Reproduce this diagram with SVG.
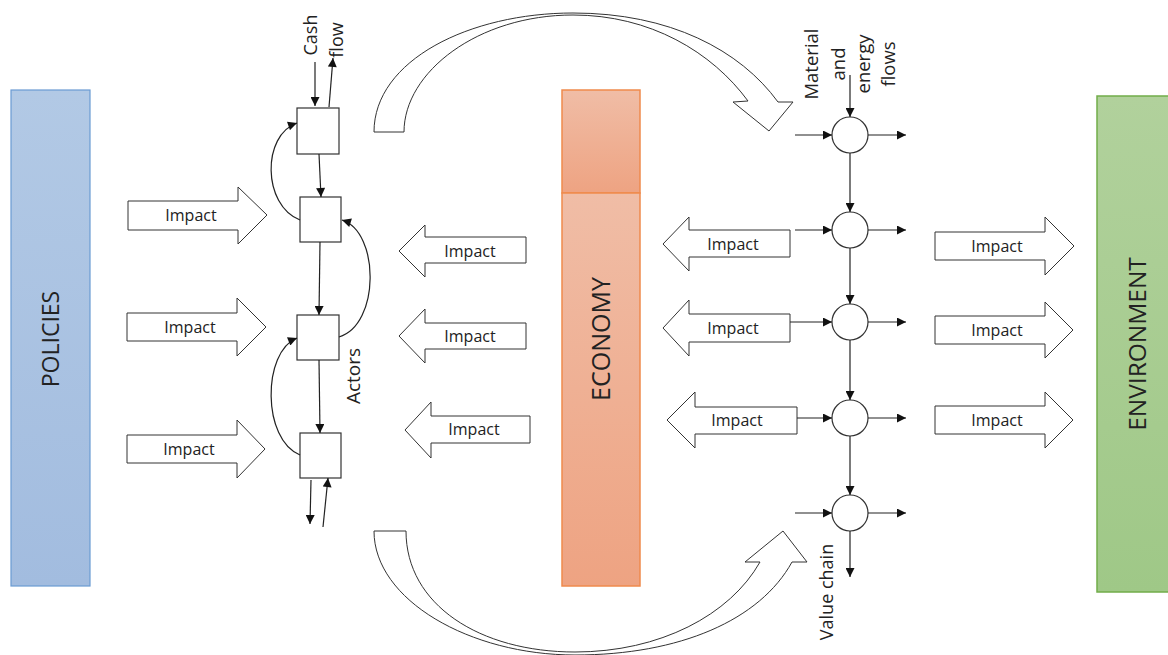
<svg xmlns="http://www.w3.org/2000/svg" width="1168" height="655" viewBox="0 0 1168 655">
<style>
.blk{fill:#fff;stroke:#333;stroke-width:1}
.ln{fill:none;stroke:#222;stroke-width:1.2}
.arr{marker-end:url(#ah)}
.box{fill:#fff;stroke:#333;stroke-width:1.2}
.t{font-family:"Open Sans","Liberation Sans",sans-serif;fill:#222}
.imp{font-size:16px;text-anchor:middle}
.lab{font-size:18px;text-anchor:middle}
.big{font-size:23px;text-anchor:middle;fill:#222}
</style>
<defs>
<marker id="ah" viewBox="0 0 10 10" refX="10" refY="5" markerWidth="10" markerHeight="9" orient="auto" markerUnits="userSpaceOnUse"><path d="M0,0 L10,5 L0,10 z" fill="#111"/></marker>
<linearGradient id="gb" x1="0" y1="0" x2="0" y2="1"><stop offset="0" stop-color="#b2c9e5"/><stop offset="1" stop-color="#a2bcdf"/></linearGradient>
<linearGradient id="go" x1="0" y1="0" x2="0" y2="1"><stop offset="0" stop-color="#f0bda6"/><stop offset="1" stop-color="#eea382"/></linearGradient>
<linearGradient id="gg" x1="0" y1="0" x2="0" y2="1"><stop offset="0" stop-color="#b1d19c"/><stop offset="1" stop-color="#9fc887"/></linearGradient>
</defs>

<g id="policies">
<rect x="11" y="90" width="79" height="496" fill="url(#gb)" stroke="#6a9bd3" stroke-width="1.2"/>
<text class="t big" transform="translate(59,339) rotate(-90)">POLICIES</text>
</g>

<g id="economy">
<rect x="562" y="90" width="78" height="103" fill="url(#go)" stroke="#ef8a4c" stroke-width="1.5"/>
<rect x="562" y="193" width="78" height="393" fill="url(#go)" stroke="#ef8a4c" stroke-width="1.5"/>
<text class="t big" style="font-size:25px" transform="translate(610,339) rotate(-90)">ECONOMY</text>
</g>

<g id="environment">
<rect x="1097" y="96" width="80" height="496" fill="url(#gg)" stroke="#72ad4a" stroke-width="1.5"/>
<text class="t big" style="font-size:24.5px" transform="translate(1146,344) rotate(-90)">ENVIRONMENT</text>
</g>

<g id="policy-impact-1"><path class="blk" d="M128,201 H238 V187 L267,215 L238,244 V230 H128 Z"/><text class="t imp" x="191" y="221">Impact</text></g>
<g id="policy-impact-2"><path class="blk" d="M127,313 H237 V298 L266,327 L237,356 V341 H127 Z"/><text class="t imp" x="190" y="333">Impact</text></g>
<g id="policy-impact-3"><path class="blk" d="M127,435 H237 V420 L265,449 L237,478 V463 H127 Z"/><text class="t imp" x="189" y="455">Impact</text></g>

<g id="economy-impact-1"><path class="blk" d="M526,237 H425 V225 L399,251 L425,277 V263 H526 Z"/><text class="t imp" x="470" y="257">Impact</text></g>
<g id="economy-impact-2"><path class="blk" d="M526,323 H425 V309 L399,336 L425,363 V349 H526 Z"/><text class="t imp" x="470" y="342">Impact</text></g>
<g id="economy-impact-3"><path class="blk" d="M530,416 H431 V402 L405,430 L431,458 V443 H530 Z"/><text class="t imp" x="474" y="435">Impact</text></g>

<g id="chain-impact-1"><path class="blk" d="M790,230 H689 V217 L663,244 L689,271 V257 H790 Z"/><text class="t imp" x="733" y="250">Impact</text></g>
<g id="chain-impact-2"><path class="blk" d="M790,314 H689 V300 L663,328 L689,356 V342 H790 Z"/><text class="t imp" x="733" y="334">Impact</text></g>
<g id="chain-impact-3"><path class="blk" d="M797,407 H695 V392 L667,420 L695,448 V434 H797 Z"/><text class="t imp" x="737" y="426">Impact</text></g>

<g id="env-impact-1"><path class="blk" d="M935,232 H1045 V217 L1074,246 L1045,275 V260 H935 Z"/><text class="t imp" x="997" y="252">Impact</text></g>
<g id="env-impact-2"><path class="blk" d="M935,316 H1045 V302 L1073,330 L1045,358 V344 H935 Z"/><text class="t imp" x="997" y="336">Impact</text></g>
<g id="env-impact-3"><path class="blk" d="M935,406 H1045 V392 L1073,420 L1045,448 V434 H935 Z"/><text class="t imp" x="997" y="426">Impact</text></g>

<g id="actor-1"><rect class="box" x="297" y="108" width="42" height="46"/></g>
<g id="actor-2"><rect class="box" x="300" y="197" width="41" height="45"/></g>
<g id="actor-3"><rect class="box" x="297" y="315" width="42" height="45"/></g>
<g id="actor-4"><rect class="box" x="300" y="433" width="41" height="45"/></g>

<g id="stage-1"><circle class="box" cx="850" cy="135" r="18"/></g>
<g id="stage-2"><circle class="box" cx="850" cy="230" r="18"/></g>
<g id="stage-3"><circle class="box" cx="850" cy="322" r="18"/></g>
<g id="stage-4"><circle class="box" cx="850" cy="418" r="18"/></g>
<g id="stage-5"><circle class="box" cx="850" cy="513" r="18"/></g>

<g id="labels">
<text class="t lab" transform="translate(317,35) rotate(-90)">Cash</text>
<text class="t lab" transform="translate(343,40) rotate(-90)">flow</text>
<text class="t lab" style="font-size:19px" transform="translate(360,376) rotate(-90)">Actors</text>
<text class="t lab" style="font-size:18.5px" transform="translate(818,64) rotate(-90)">Material</text>
<text class="t lab" style="font-size:18.5px" transform="translate(845,64) rotate(-90)">and</text>
<text class="t lab" style="font-size:18.5px" transform="translate(870,64) rotate(-90)">energy</text>
<text class="t lab" style="font-size:18.5px" transform="translate(895,64) rotate(-90)">flows</text>
<text class="t lab" transform="translate(833,592) rotate(-90)">Value chain</text>
</g>

<g id="connectors">
<path class="blk" d="M374,132 C374,60 470,13 573,13 C670,13 740,50 778,102 L793,102 L769,131 L733,102 L748,101 C712,52 650,15 573,15 C478,15 404,72 404,132 Z"/>
<path class="blk" d="M374,531 C374,600 470,655 575,655 C680,655 760,620 792,562 L807,562 L783,531 L745,562 L760,562 C730,615 660,652 575,652 C480,652 406,605 406,531 Z"/>

<line class="ln arr" x1="315" y1="62" x2="315" y2="106"/>
<line class="ln arr" x1="329" y1="107" x2="333" y2="58"/>
<line class="ln arr" x1="319" y1="154" x2="321" y2="197"/>
<line class="ln arr" x1="320" y1="242" x2="319" y2="315"/>
<line class="ln arr" x1="319" y1="360" x2="320" y2="433"/>
<line class="ln arr" x1="311" y1="480" x2="310" y2="524"/>
<line class="ln arr" x1="323" y1="527" x2="328" y2="478"/>
<path class="ln arr" d="M300,220 C262,205 262,135 297,123"/>
<path class="ln arr" d="M339,337 C380,325 380,232 342,220"/>
<path class="ln arr" d="M300,455 C262,440 262,352 297,338"/>

<line class="ln arr" x1="850" y1="75" x2="850" y2="117"/>
<line class="ln arr" x1="850" y1="153" x2="850" y2="212"/>
<line class="ln arr" x1="850" y1="248" x2="850" y2="304"/>
<line class="ln arr" x1="850" y1="340" x2="850" y2="400"/>
<line class="ln arr" x1="850" y1="436" x2="850" y2="495"/>
<line class="ln arr" x1="850" y1="531" x2="850" y2="577"/>

<line class="ln arr" x1="795" y1="135" x2="832" y2="135"/>
<line class="ln arr" x1="795" y1="230" x2="832" y2="230"/>
<line class="ln arr" x1="790" y1="322" x2="832" y2="322"/>
<line class="ln arr" x1="797" y1="418" x2="832" y2="418"/>
<line class="ln arr" x1="795" y1="513" x2="832" y2="513"/>

<line class="ln arr" x1="868" y1="135" x2="906" y2="135"/>
<line class="ln arr" x1="868" y1="230" x2="906" y2="230"/>
<line class="ln arr" x1="868" y1="322" x2="906" y2="322"/>
<line class="ln arr" x1="868" y1="418" x2="906" y2="418"/>
<line class="ln arr" x1="868" y1="513" x2="906" y2="513"/>
</g>
</svg>
